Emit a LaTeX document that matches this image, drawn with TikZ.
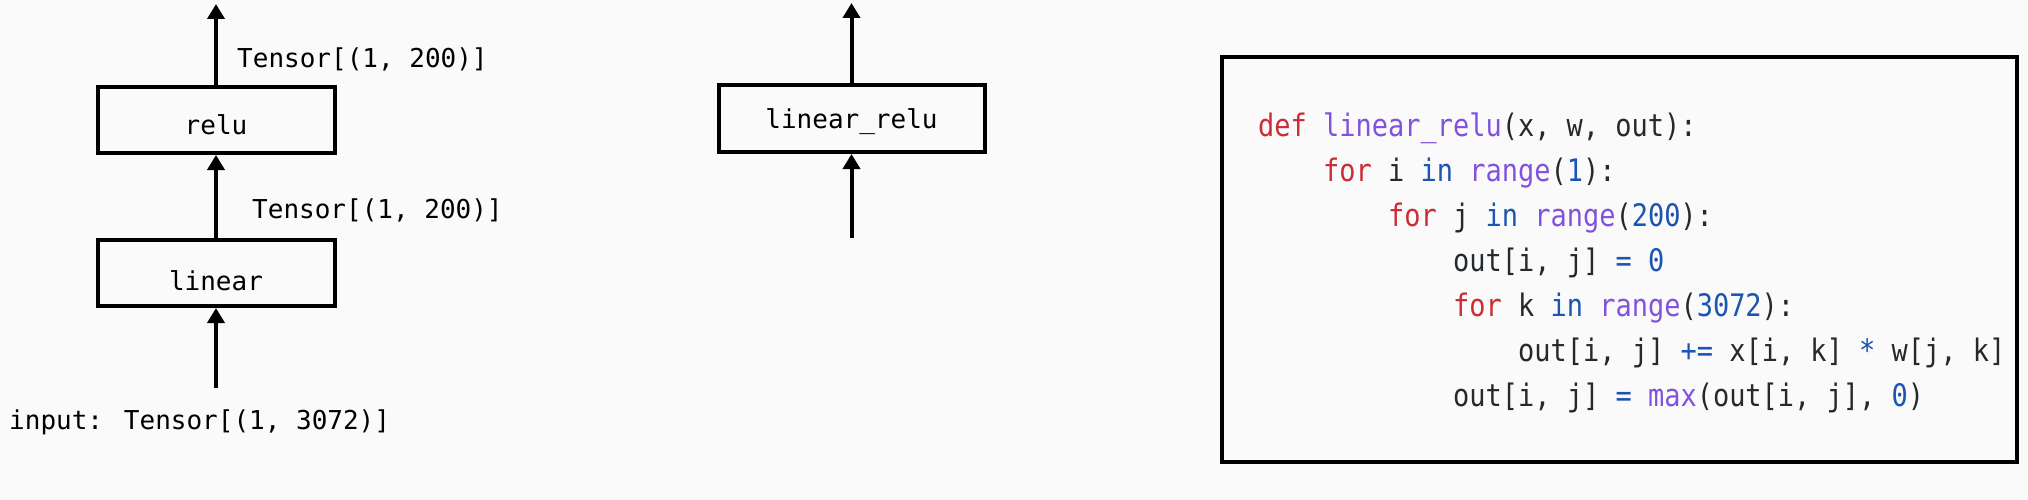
\documentclass[tikz,border=0pt]{standalone}
\usepackage{fontspec}
\usetikzlibrary{arrows.meta}
\newfontfamily\labfont{DejaVu Sans Mono}
\newfontfamily\codefont[FakeStretch=0.87]{DejaVu Sans Mono}
\definecolor{bg}{RGB}{250,250,250}
\definecolor{kwred}{RGB}{203,45,55}
\definecolor{fnpurple}{RGB}{130,82,222}
\definecolor{numblue}{RGB}{28,84,178}
\definecolor{codetxt}{RGB}{36,41,46}
\newcommand\kw[1]{\textcolor{kwred}{#1}}
\newcommand\fn[1]{\textcolor{fnpurple}{#1}}
\newcommand\nm[1]{\textcolor{numblue}{#1}}
\begin{document}
\begin{tikzpicture}[x=1pt,y=-1pt,
  opbox/.style={draw=black, line width=4pt, fill=bg, minimum width=237pt, minimum height=66pt, inner sep=0pt, font=\labfont\fontsize{26}{30}\selectfont, text depth=0pt},
  arr/.style={line width=4pt, -{Triangle[width=17pt,length=15pt]}},
  lab/.style={anchor=base west, inner sep=0pt, font=\labfont\fontsize{26}{30}\selectfont},
  codeline/.style={anchor=base west, inner sep=0pt, font=\codefont\fontsize{31}{45}\selectfont, text=codetxt}]
\fill[bg] (0,0) rectangle (2028,500);
\useasboundingbox (0,0) rectangle (2028,500);

% left graph
\node[opbox, text height=29pt] (relu) at (216,120) {relu};
\node[opbox, text height=35pt] (linear) at (216,273) {linear};
\coordinate (reluout) at (216,4);
\coordinate (linin) at (216,388);
\draw[arr] (relu.north) -- (reluout);
\draw[arr] (linear.north) -- (relu.south);
\draw[arr] (linin) -- (linear.south);
\node[lab] (t2) at (237,68) {Tensor[(1, 200)]};
\node[lab] (t1) at (252,218) {Tensor[(1, 200)]};
\node[lab] (inp) at (9,429) {input: Tensor[(1, 3072)]};

% fused graph
\node[opbox, minimum width=266pt, minimum height=67pt, text height=20pt] (lr) at (851.5,118.5) {linear\_relu};
\coordinate (lrout) at (851.5,3);
\coordinate (lrin) at (851.5,238);
\draw[arr] (lr.north) -- (lrout);
\draw[arr] (lrin) -- (lr.south);

% code
\node[draw=black, line width=4pt, fill=bg, minimum width=795pt, minimum height=404.5pt, inner sep=0pt] (codebox) at (1619.5,259.75) {};
\node[codeline] (l1) at (1258,136) {\kw{def} \fn{linear\_relu}(x, w, out):};
\node[codeline] (l2) at (1323,181) {\kw{for} i \nm{in} \fn{range}(\nm{1}):};
\node[codeline] (l3) at (1388,226) {\kw{for} j \nm{in} \fn{range}(\nm{200}):};
\node[codeline] (l4) at (1453,271) {out[i, j] \nm{=} \nm{0}};
\node[codeline] (l5) at (1453,316) {\kw{for} k \nm{in} \fn{range}(\nm{3072}):};
\node[codeline] (l6) at (1518,361) {out[i, j] \nm{+=} x[i, k] \nm{*} w[j, k]};
\node[codeline] (l7) at (1453,406) {out[i, j] \nm{=} \fn{max}(out[i, j], \nm{0})};
\end{tikzpicture}
\end{document}
